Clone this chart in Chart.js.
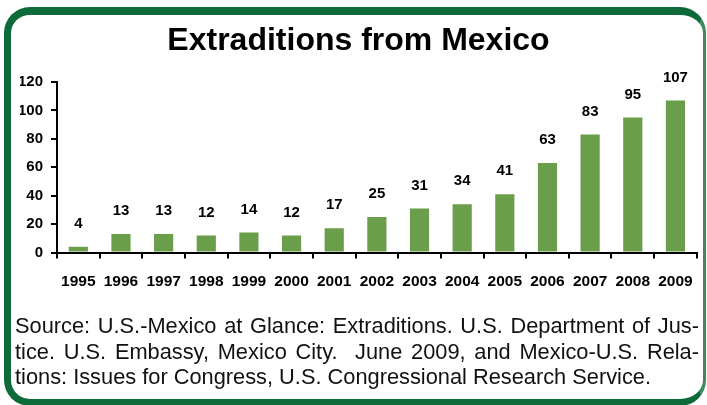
<!DOCTYPE html>
<html>
<head>
<meta charset="utf-8">
<script src="https://cdn.jsdelivr.net/npm/chart.js@4.4.1/dist/chart.umd.min.js"></script>
<style>
  html, body { margin:0; padding:0; background:#ffffff; }
  body { width:707px; height:405px; position:relative; overflow:hidden; font-family: Arial, "Liberation Sans", sans-serif; }
  #wrap { position:absolute; left:0; top:0; width:707px; height:405px; }
  #frame { position:absolute; left:4px; top:7px; width:702px; height:399px; box-sizing:border-box;
           border-style:solid; border-color:#0d6b3a; border-right-color:#3c8a5c;
           border-width:8px 3px 7px 7px; border-radius:26px; pointer-events:none; z-index:2; }
  #source { position:absolute; left:15px; top:313px; width:684px; font-size:21.8px; line-height:25.5px; color:#111; z-index:3; }
  #source div { text-align:justify; text-align-last:justify; white-space:nowrap; }
  #source div.last { text-align-last:left; }
</style>
</head>
<body>
<div id="wrap"><canvas id="c" width="707" height="405"></canvas></div>
<div id="frame"></div>
<div id="source">
  <div>Source: U.S.-Mexico at Glance: Extraditions. U.S. Department of Jus-</div>
  <div>tice. U.S. Embassy, Mexico City.&nbsp; June 2009, and Mexico-U.S. Rela-</div>
  <div class="last">tions: Issues for Congress, U.S. Congressional Research Service.</div>
</div>
<script>
const years = ['1995','1996','1997','1998','1999','2000','2001','2002','2003','2004','2005','2006','2007','2008','2009'];
const extraditions = [4, 13, 13, 12, 14, 12, 17, 25, 31, 34, 41, 63, 83, 95, 107];
const yTicks = [0, 20, 40, 60, 80, 100, 120];
const chartTitle = 'Extraditions from Mexico';

const FONT = 'Arial, "Liberation Sans", sans-serif';

const barLabels = {
  id: 'barLabels',
  afterDatasetsDraw(chart) {
    const ctx = chart.ctx;
    const meta = chart.getDatasetMeta(0);
    ctx.save();
    ctx.font = 'bold 15px ' + FONT;
    ctx.fillStyle = '#000';
    ctx.textAlign = 'center';
    ctx.textBaseline = 'middle';
    meta.data.forEach((bar, i) => {
      ctx.fillText(String(extraditions[i]), bar.x, bar.y - 23);
    });
    ctx.restore();
  }
};

new Chart(document.getElementById('c'), {
  type: 'bar',
  data: {
    labels: years,
    datasets: [{
      data: extraditions,
      backgroundColor: '#6b9e4b',
      borderWidth: 0,
      barPercentage: 0.45,
      categoryPercentage: 1.0
    }]
  },
  options: {
    responsive: false,
    animation: false,
    devicePixelRatio: 1,
    layout: { padding: { left: 20, right: 10, top: 0, bottom: 112.5 } },
    plugins: {
      legend: { display: false },
      tooltip: { enabled: false },
      title: {
        display: true,
        text: chartTitle,
        color: '#000',
        font: { family: FONT, size: 32, weight: 'bold', lineHeight: 1.2 },
        padding: { top: 21.5, bottom: 22.1 }
      }
    },
    scales: {
      x: {
        grid: { display: true, drawOnChartArea: false, drawTicks: true, tickLength: 6, color: '#000', lineWidth: 2, offset: true },
        border: { display: true, color: '#000', width: 2 },
        ticks: { color: '#000', padding: 14, maxRotation: 0, autoSkip: false,
                 font: { family: FONT, size: 15.5, weight: 'bold' } },
        afterFit(scale) { scale.height = 40; }
      },
      y: {
        min: 0, max: 120,
        afterBuildTicks(scale) { scale.ticks = yTicks.map(v => ({ value: v })); },
        grid: { display: true, drawOnChartArea: false, drawTicks: true, tickLength: 6, color: '#000', lineWidth: 2 },
        border: { display: true, color: '#000', width: 2 },
        ticks: { color: '#000', padding: 8,
                 font: { family: FONT, size: 15, weight: 'bold' } },
        afterFit(scale) { scale.width = 37; }
      }
    }
  },
  plugins: [barLabels]
});
</script>
</body>
</html>
